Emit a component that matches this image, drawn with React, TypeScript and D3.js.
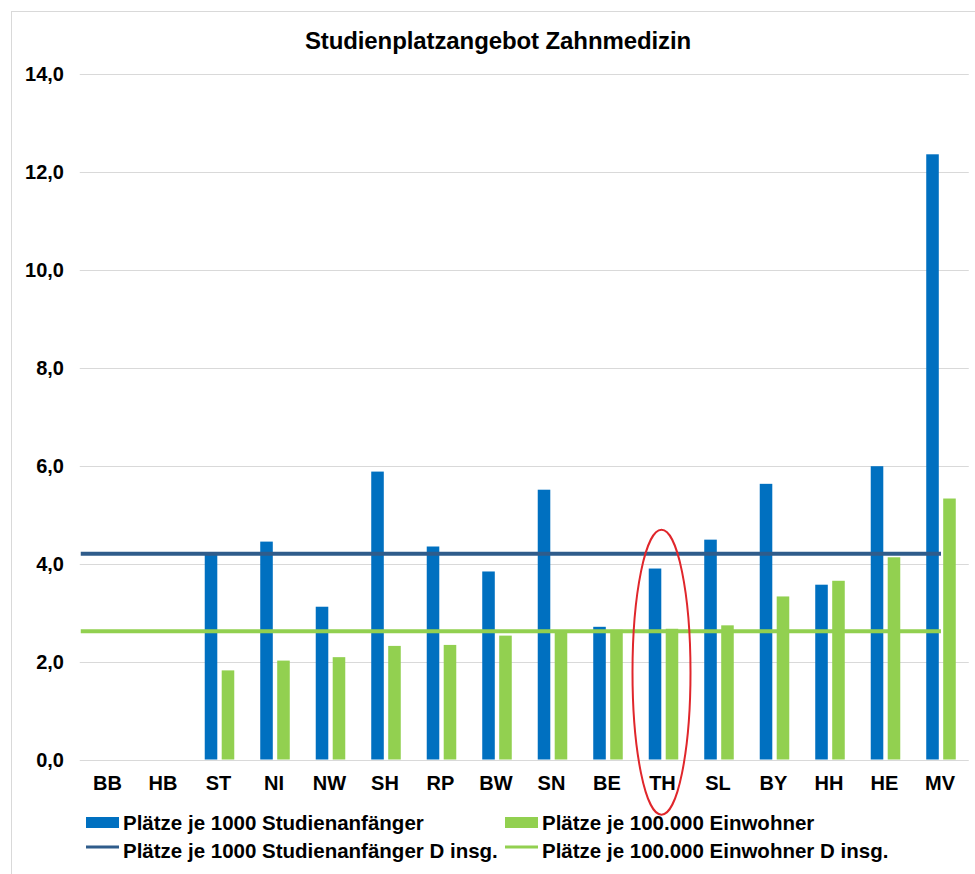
import { useRef, useEffect } from "react";
import * as d3 from "d3";

const categories = ["BB", "HB", "ST", "NI", "NW", "SH", "RP", "BW", "SN", "BE", "TH", "SL", "BY", "HH", "HE", "MV"];
// Plätze je 1000 Studienanfänger
const proStudienanfaenger = [null, null, 4.18, 4.45, 3.12, 5.88, 4.35, 3.84, 5.51, 2.71, 3.9, 4.49, 5.63, 3.57, 5.99, 12.36];
// Plätze je 100.000 Einwohner
const proEinwohner = [null, null, 1.82, 2.02, 2.09, 2.32, 2.34, 2.53, 2.61, 2.65, 2.67, 2.74, 3.33, 3.65, 4.13, 5.33];
// Deutschland insgesamt
const dInsgStudienanfaenger = 4.2;
const dInsgEinwohner = 2.62;
const yTicks = [0, 2, 4, 6, 8, 10, 12, 14];
const seriesNames = [
  "Plätze je 1000 Studienanfänger",
  "Plätze je 100.000 Einwohner",
  "Plätze je 1000 Studienanfänger D insg.",
  "Plätze je 100.000 Einwohner D insg.",
];
const highlighted = "TH";

const BLUE = "#0070C0";
const GREEN = "#92D050";
const LINE_BLUE = "#2F5C8B";
const LINE_GREEN = "#92D050";
const FONT = "'Liberation Sans', Arial, sans-serif";

const useD3 = (renderChartFn, dependencies) => {
  const ref = useRef();
  useEffect(() => {
    const svg = d3.select(ref.current);
    svg.selectAll("*").remove();
    renderChartFn(svg);
    return () => {};
  }, dependencies);
  return ref;
};

const Chart = () => {
  const ref = useD3((svg) => {
    const width = 975;
    const height = 874;

    const x = d3.scaleBand().domain(categories).range([80.75, 968.75]).paddingInner(0.468).paddingOuter(0.234);
    const xs = d3.scaleBand().domain(["a", "b"]).range([0, x.bandwidth()]).paddingInner(0.26);
    const y = d3.scaleLinear().domain([0, 14]).range([759.5, 74]);
    const fmt = (v) => d3.format(".1f")(v).replace(".", ",");

    // frame
    svg.append("rect")
      .attr("x", 11.5).attr("y", 11.5)
      .attr("width", width + 20).attr("height", height + 20)
      .attr("fill", "#fff").attr("stroke", "#d9d9d9");

    svg.append("text")
      .attr("x", 498).attr("y", 49)
      .attr("text-anchor", "middle")
      .attr("font-family", FONT).attr("font-weight", "bold").attr("font-size", 24)
      .attr("letter-spacing", -0.1)
      .text("Studienplatzangebot Zahnmedizin");

    // grid + y labels
    const [x0, x1] = x.range();
    svg.append("g").selectAll("line").data(yTicks).join("line")
      .attr("x1", x0 - 1).attr("x2", x1)
      .attr("y1", (d) => Math.round(y(d)) + 0.5).attr("y2", (d) => Math.round(y(d)) + 0.5)
      .attr("stroke", "#d9d9d9");
    svg.append("g").selectAll("text").data(yTicks).join("text")
      .attr("x", 64).attr("y", (d) => y(d) + 7)
      .attr("text-anchor", "end")
      .attr("font-family", FONT).attr("font-weight", "bold").attr("font-size", 20)
      .text(fmt);

    // bars
    const rows = categories.map((c, i) => ({ c, a: proStudienanfaenger[i], b: proEinwohner[i] }));
    const g = svg.append("g");
    g.selectAll(".bar-a").data(rows.filter((d) => d.a != null)).join("rect")
      .attr("x", (d) => x(d.c) + xs("a")).attr("width", xs.bandwidth())
      .attr("y", (d) => y(d.a)).attr("height", (d) => y(0) - y(d.a))
      .attr("fill", BLUE);
    g.selectAll(".bar-b").data(rows.filter((d) => d.b != null)).join("rect")
      .attr("x", (d) => x(d.c) + xs("b")).attr("width", xs.bandwidth())
      .attr("y", (d) => y(d.b)).attr("height", (d) => y(0) - y(d.b))
      .attr("fill", GREEN);

    // D insg. lines
    const lastCenter = x(categories[categories.length - 1]) + x.bandwidth() / 2;
    [[dInsgStudienanfaenger, LINE_BLUE], [dInsgEinwohner, LINE_GREEN]].forEach(([v, col]) => {
      svg.append("line")
        .attr("x1", x0).attr("x2", lastCenter)
        .attr("y1", y(v)).attr("y2", y(v))
        .attr("stroke", col).attr("stroke-width", 4);
    });

    // x labels
    svg.append("g").selectAll("text").data(categories).join("text")
      .attr("x", (d) => x(d) + x.bandwidth() / 2 - 1).attr("y", 790)
      .attr("text-anchor", "middle")
      .attr("font-family", FONT).attr("font-weight", "bold").attr("font-size", 20)
      .text((d) => d);

    // highlight ellipse
    const cx = x(highlighted) + x.bandwidth() / 2 - 2;
    const top = y(4.69);
    const bottom = y(-1.13);
    svg.append("ellipse")
      .attr("cx", cx).attr("cy", (top + bottom) / 2)
      .attr("rx", 29).attr("ry", (bottom - top) / 2)
      .attr("fill", "none").attr("stroke", "#E0262B").attr("stroke-width", 2);

    // legend
    const legend = [
      { name: seriesNames[0], col: BLUE, type: "rect", lx: 86, ly: 823 },
      { name: seriesNames[1], col: GREEN, type: "rect", lx: 505, ly: 823 },
      { name: seriesNames[2], col: LINE_BLUE, type: "line", lx: 86, ly: 851 },
      { name: seriesNames[3], col: LINE_GREEN, type: "line", lx: 505, ly: 851 },
    ];
    legend.forEach((d) => {
      if (d.type === "rect") {
        svg.append("rect").attr("x", d.lx).attr("y", d.ly - 6).attr("width", 33).attr("height", 11).attr("fill", d.col);
      } else {
        svg.append("line").attr("x1", d.lx).attr("x2", d.lx + 33).attr("y1", d.ly - 4).attr("y2", d.ly - 4)
          .attr("stroke", d.col).attr("stroke-width", 3);
      }
      svg.append("text")
        .attr("x", d.lx + 37).attr("y", d.ly + 7)
        .attr("font-family", FONT).attr("font-weight", "bold").attr("font-size", 20.5)
        .text(d.name);
    });
  }, []);

  return (
    <svg
      ref={ref}
      width={975}
      height={874}
      style={{ position: "absolute", left: 0, top: 0, display: "block", background: "#fff" }}
    />
  );
};

export default function App() {
  return <Chart />;
}
